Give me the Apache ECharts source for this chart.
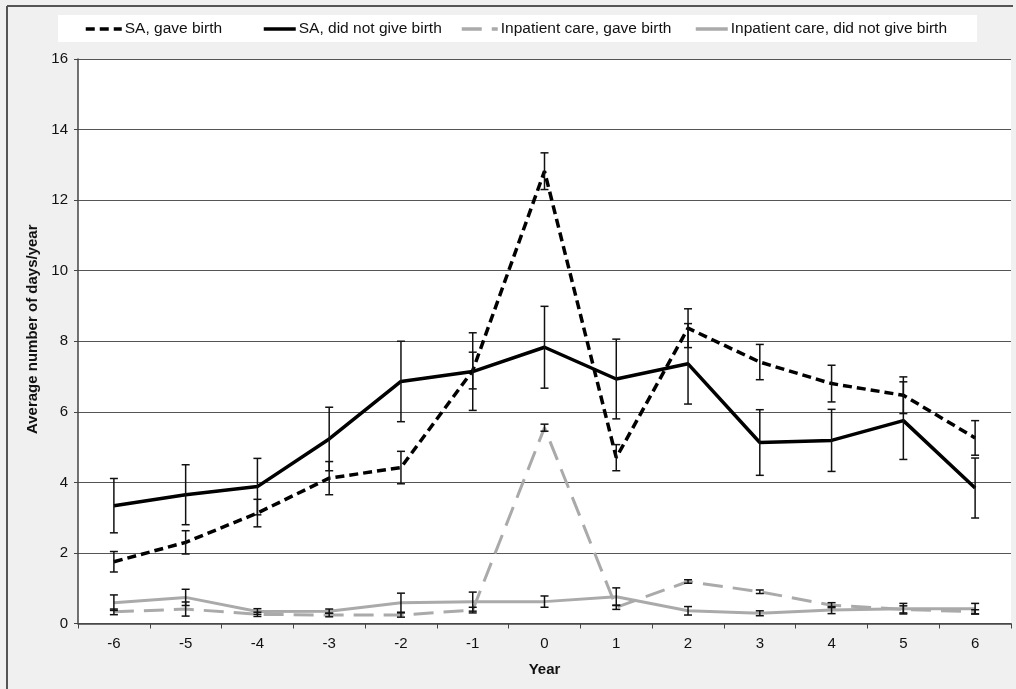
<!DOCTYPE html>
<html>
<head>
<meta charset="utf-8">
<script src="https://cdn.jsdelivr.net/npm/echarts@6/dist/echarts.min.js"></script>
<style>
html,body{margin:0;padding:0;background:#fff;}
#chart{width:1016px;height:689px;}
</style>
</head>
<body>
<div id="chart"></div>
<script>
var years = ['-6','-5','-4','-3','-2','-1','0','1','2','3','4','5','6'];
var yTicks = [0,2,4,6,8,10,12,14,16];

var saBirth      = [1.75,2.30,3.13,4.12,4.42,7.17,12.82,4.70,8.37,7.41,6.80,6.47,5.26];
var saBirthErr   = [0.29,0.33,0.39,0.47,0.46,0.52,0.52,0.37,0.55,0.50,0.52,0.52,0.49];
var saNoBirth    = [3.34,3.65,3.88,5.23,6.86,7.14,7.83,6.93,7.36,5.13,5.19,5.75,3.84];
var saNoBirthErr = [0.77,0.85,0.80,0.90,1.14,1.10,1.16,1.13,1.14,0.93,0.88,1.10,0.85];
var ipBirth      = [0.33,0.41,0.26,0.24,0.24,0.38,5.55,0.46,1.19,0.90,0.52,0.40,0.33];
var ipBirthErr   = [0.08,0.20,0.06,0.05,0.06,0.08,0.10,0.06,0.05,0.05,0.07,0.10,0.06];
var ipNoBirth    = [0.59,0.74,0.34,0.35,0.59,0.62,0.62,0.76,0.36,0.29,0.38,0.42,0.42];
var ipNoBirthErr = [0.22,0.23,0.08,0.06,0.27,0.27,0.16,0.25,0.12,0.07,0.10,0.15,0.15];

var names = ['SA, gave birth','SA, did not give birth','Inpatient care, gave birth','Inpatient care, did not give birth'];

function errData(vals, errs){
  return vals.map(function(v,i){ return [i, v - errs[i], v + errs[i]]; });
}
function errRender(params, api){
  var x = api.value(0);
  var lo = api.coord([x, api.value(1)]);
  var hi = api.coord([x, api.value(2)]);
  var hw = 4;
  var st = {stroke:'#111', lineWidth:1.5};
  return {type:'group', children:[
    {type:'line', shape:{x1:hi[0],y1:hi[1],x2:lo[0],y2:lo[1]}, style:st},
    {type:'line', shape:{x1:hi[0]-hw,y1:hi[1],x2:hi[0]+hw,y2:hi[1]}, style:st},
    {type:'line', shape:{x1:lo[0]-hw,y1:lo[1],x2:lo[0]+hw,y2:lo[1]}, style:st}
  ]};
}
function errSeries(vals, errs){
  return {type:'custom', renderItem:errRender, data:errData(vals,errs), z:10, silent:true,
          encode:{x:0, y:[1,2]}};
}

var font = 'Liberation Sans, Arial, sans-serif';
var chart = echarts.init(document.getElementById('chart'), null, {renderer:'canvas'});

function legendAt(name, left, w){
  return {data:[name], left:left, top:21, padding:0, itemWidth:w, itemHeight:14, itemGap:0,
          itemStyle:{opacity:0, borderWidth:0},
          lineStyle:{width:3.5},
          textStyle:{fontFamily:font, fontSize:15.5, color:'#111', padding:[0,0,0,-2]}};
}

var option = {
  backgroundColor:'#f0f0f0',
  animation:false,
  graphic:[
    {type:'rect', shape:{x:58,y:15,width:919,height:27}, style:{fill:'#fff'}, z:-10},
    {type:'line', shape:{x1:7,y1:6,x2:1013,y2:6}, style:{stroke:'#555',lineWidth:2}},
    {type:'line', shape:{x1:7,y1:6,x2:7,y2:689}, style:{stroke:'#555',lineWidth:2}}
  ],
  legend:[
    legendAt(names[0], 84, 36),
    legendAt(names[1], 262, 32),
    legendAt(names[2], 460, 36),
    legendAt(names[3], 694, 32)
  ],
  grid:{left:78, right:5, top:59, bottom:65.5, show:true, backgroundColor:'#fff', borderWidth:0},
  xAxis:{
    type:'category', data:years, boundaryGap:true,
    name:'Year', nameLocation:'middle', nameGap:39,
    nameTextStyle:{fontFamily:font, fontSize:15, fontWeight:'bold', color:'#111'},
    axisLine:{lineStyle:{color:'#444', width:1.5}},
    axisTick:{show:true, length:5, lineStyle:{color:'#444'}},
    axisLabel:{fontFamily:font, fontSize:15, color:'#111', margin:13},
    splitLine:{show:false}
  },
  yAxis:{
    type:'value', min:0, max:16, interval:2,
    name:'Average number of days/year', nameLocation:'middle', nameGap:28,
    nameTextStyle:{fontFamily:font, fontSize:15, fontWeight:'bold', color:'#111', padding:[0,0,0,24]},
    axisLine:{show:true, lineStyle:{color:'#444', width:1.5}},
    axisTick:{show:true, length:4, lineStyle:{color:'#444'}},
    axisLabel:{fontFamily:font, fontSize:15, color:'#111', margin:10,
      formatter:function(v){ return yTicks.indexOf(v) >= 0 ? String(v) : ''; }},
    splitLine:{show:true, lineStyle:{color:'#555', width:1.2}}
  },
  series:[
    {name:names[2], type:'line', data:ipBirth, symbol:'none', z:3,
     lineStyle:{color:'#aaaaaa', width:3, type:[20,10]}, itemStyle:{color:'#aaaaaa'}},
    {name:names[3], type:'line', data:ipNoBirth, symbol:'none', z:3,
     lineStyle:{color:'#aaaaaa', width:3, type:'solid'}, itemStyle:{color:'#aaaaaa'}},
    {name:names[0], type:'line', data:saBirth, symbol:'none', z:4,
     lineStyle:{color:'#000', width:3.5, type:[9,5]}, itemStyle:{color:'#000'}},
    {name:names[1], type:'line', data:saNoBirth, symbol:'none', z:4,
     lineStyle:{color:'#000', width:3.5, type:'solid'}, itemStyle:{color:'#000'}},
    errSeries(ipBirth, ipBirthErr),
    errSeries(ipNoBirth, ipNoBirthErr),
    errSeries(saBirth, saBirthErr),
    errSeries(saNoBirth, saNoBirthErr)
  ]
};
chart.setOption(option);
</script>
</body>
</html>
